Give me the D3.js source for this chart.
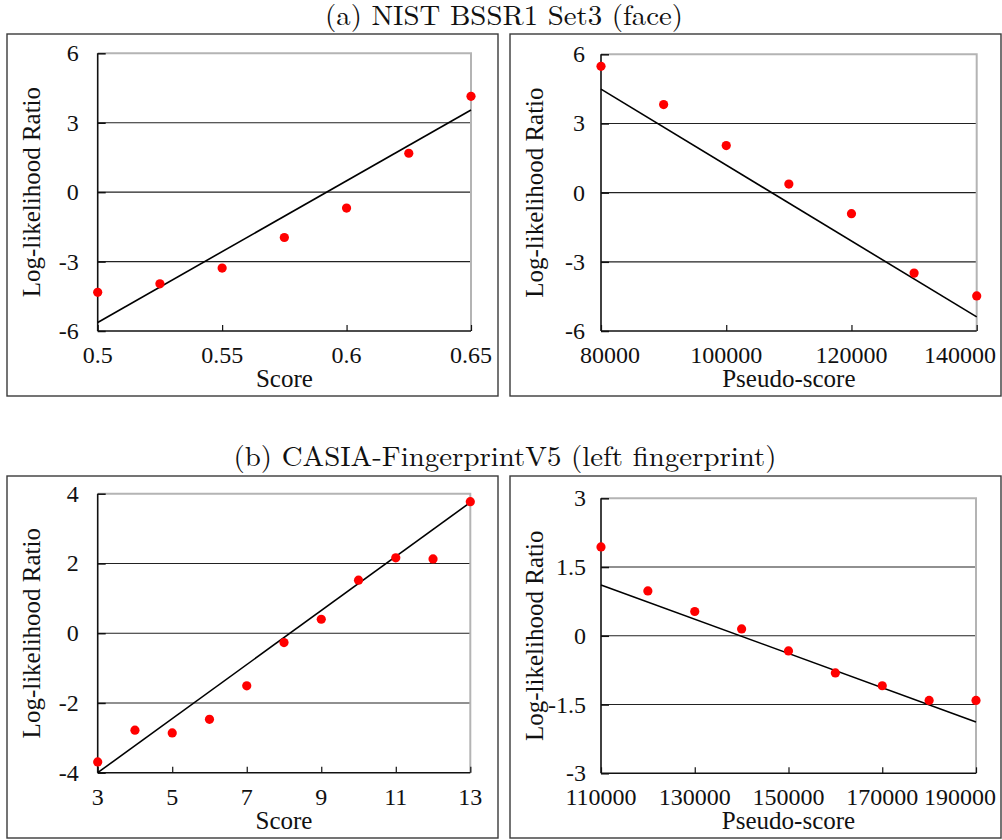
<!DOCTYPE html>
<html>
<head>
<meta charset="utf-8">
<script src="https://cdn.jsdelivr.net/npm/d3@7"></script>
<style>
    body { margin: 0; background: #fff; }
    svg { display: block; }
    .lab { font-family: 'Liberation Serif'; fill: #111; }
    .ttl { font-family: 'Latin Modern Roman'; fill: #111; }
</style>
</head>
<body>
<svg id="chart" width="1002" height="840"></svg>
<script>
    /*
    Data. Each panel has x values, log-likelihood
    ratios and the two end values of the fitted line
     */
    var faceScore = [0.5, 0.525, 0.55, 0.575, 0.6, 0.625, 0.65];
    var faceScoreLLR = [-4.33, -3.96, -3.28, -1.96, -0.69, 1.68, 4.14];
    var faceScoreFit = [-5.63, 3.55];
    var faceScoreXTicks = [0.5, 0.55, 0.6, 0.65];
    var faceYTicks = [-6, -3, 0, 3, 6];

    var facePseudo = [80000, 90000, 100000, 110000, 120000, 130000, 140000];
    var facePseudoLLR = [5.48, 3.82, 2.04, 0.37, -0.91, -3.49, -4.48];
    var facePseudoFit = [4.49, -5.39];
    var facePseudoXTicks = [80000, 100000, 120000, 140000];

    var fingerScore = [3, 4, 5, 6, 7, 8, 9, 10, 11, 12, 13];
    var fingerScoreLLR = [-3.69, -2.78, -2.86, -2.47, -1.51, -0.27, 0.40, 1.52, 2.16, 2.13, 3.77];
    var fingerScoreFit = [-4.0, 3.75];
    var fingerScoreXTicks = [3, 5, 7, 9, 11, 13];
    var fingerScoreYTicks = [-4, -2, 0, 2, 4];

    var fingerPseudo = [110000, 120000, 130000, 140000, 150000, 160000, 170000, 180000, 190000];
    var fingerPseudoLLR = [1.94, 0.98, 0.53, 0.15, -0.33, -0.81, -1.09, -1.41, -1.41];
    var fingerPseudoFit = [1.11, -1.88];
    var fingerPseudoXTicks = [110000, 130000, 150000, 170000, 190000];
    var fingerPseudoYTicks = [-3, -1.5, 0, 1.5, 3];

    var titles = ["(a) NIST BSSR1 Set3 (face)", "(b) CASIA-FingerprintV5 (left fingerprint)"];

    var svg = d3.select("#chart");
    var marks = svg.append("g").attr("class", "marks");
    var labels = svg.append("g").attr("class", "labels");

    /*
    Row titles, in Computer Modern like the LaTeX original
     */
    var titleRows = [
        {text: titles[0], x: 504, y: 25, w: 358},
        {text: titles[1], x: 505, y: 466, w: 543}
    ];
    labels.selectAll("text.ttl").data(titleRows).enter().append("text")
        .attr("class", "ttl")
        .attr("x", function(d){ return d.x; })
        .attr("y", function(d){ return d.y; })
        .attr("text-anchor", "middle")
        .attr("textLength", function(d){ return d.w; })
        .attr("lengthAdjust", "spacingAndGlyphs")
        .style("font-size", "28px")
        .text(function(d){ return d.text; });

    /*
    Panel layout: outer box, plot area and the data for each panel
     */
    var panels = [
        {box: [7, 34, 498, 396], plot: [97.7, 53.3, 471, 331],
         x: faceScore, y: faceScoreLLR, fit: faceScoreFit,
         xTicks: faceScoreXTicks, yTicks: faceYTicks, xLabel: "Score", yLabelGap: 19},
        {box: [510, 34, 1001, 396], plot: [601, 54.3, 976.7, 331],
         x: facePseudo, y: facePseudoLLR, fit: facePseudoFit,
         xTicks: facePseudoXTicks, yTicks: faceYTicks, xLabel: "Pseudo-score", yLabelGap: 16,
         firstShift: 9},
        {box: [7, 476, 498, 838], plot: [97.7, 493.7, 470.3, 772.7],
         x: fingerScore, y: fingerScoreLLR, fit: fingerScoreFit,
         xTicks: fingerScoreXTicks, yTicks: fingerScoreYTicks, xLabel: "Score", yLabelGap: 19},
        {box: [510, 476, 1001, 838], plot: [601, 498.3, 976, 773.3],
         x: fingerPseudo, y: fingerPseudoLLR, fit: fingerPseudoFit,
         xTicks: fingerPseudoXTicks, yTicks: fingerPseudoYTicks, xLabel: "Pseudo-score", yLabelGap: 15}
    ];

    panels.forEach(drawPanel);

    /*
    drawPanel()
        Draw one scatter plot with its fitted line, grid and axes.
        Lines and dots go in the marks layer, text in the labels layer
     */
    function drawPanel(p){
        var g = marks.append("g");
        var t = labels.append("g");
        var L = p.plot[0], T = p.plot[1], R = p.plot[2], B = p.plot[3];

        var x = d3.scaleLinear()
            .domain(d3.extent(p.xTicks))
            .range([L, R]);
        var y = d3.scaleLinear()
            .domain(d3.extent(p.yTicks))
            .range([B, T]);

        //outer frame
        g.append("rect")
            .attr("x", p.box[0]).attr("y", p.box[1])
            .attr("width", p.box[2] - p.box[0])
            .attr("height", p.box[3] - p.box[1])
            .attr("fill", "none")
            .attr("stroke", "#3a3a3a")
            .attr("stroke-width", 1.4);

        //horizontal grid lines on the inner ticks
        var inner = p.yTicks.slice(1, -1);
        g.selectAll("line.grid").data(inner).enter().append("line")
            .attr("x1", L).attr("x2", R)
            .attr("y1", function(d){ return y(d); })
            .attr("y2", function(d){ return y(d); })
            .attr("stroke", "#222")
            .attr("stroke-width", 1.1);

        //top and right of plot area in light gray
        g.append("path")
            .attr("d", "M" + L + "," + y.range()[1] + "H" + R + "V" + B)
            .attr("fill", "none")
            .attr("stroke", "#b4b4b4")
            .attr("stroke-width", 2);

        //left axis, ticks pointing inside
        var ya = g.append("g")
            .attr("transform", "translate(" + L + ",0)")
            .call(d3.axisRight(y).tickValues(p.yTicks).tickSize(8).tickFormat(""));
        ya.select(".domain").remove();
        ya.selectAll("line").attr("stroke", "#111").attr("stroke-width", 1.5);
        g.append("line")
            .attr("x1", L).attr("x2", L)
            .attr("y1", T).attr("y2", B)
            .attr("stroke", "#111")
            .attr("stroke-width", 1.6);

        //bottom axis, ticks pointing up
        var xa = g.append("g")
            .attr("transform", "translate(0," + B + ")")
            .call(d3.axisTop(x).tickValues(p.xTicks).tickSize(6).tickFormat(""));
        xa.select(".domain").remove();
        xa.selectAll("line").attr("stroke", "#111").attr("stroke-width", 1.2);
        g.append("line")
            .attr("x1", L).attr("x2", R)
            .attr("y1", B).attr("y2", B)
            .attr("stroke", "#111")
            .attr("stroke-width", 1.6);

        //fitted line
        var xs = d3.extent(p.xTicks);
        var fitPts = [[xs[0], p.fit[0]], [xs[1], p.fit[1]]];
        g.append("path")
            .datum(fitPts)
            .attr("d", d3.line()
                .x(function(d){ return x(d[0]); })
                .y(function(d){ return y(d[1]); }))
            .attr("fill", "none")
            .attr("stroke", "#000")
            .attr("stroke-width", 1.6);

        //data points
        g.selectAll("circle").data(p.x).enter().append("circle")
            .attr("cx", function(d){ return x(d); })
            .attr("cy", function(d, i){ return y(p.y[i]); })
            .attr("r", 4.6)
            .attr("fill", "#ff0000");

        //y tick labels
        t.selectAll("text.ylab").data(p.yTicks).enter().append("text")
            .attr("class", "lab")
            .attr("x", L - p.yLabelGap)
            .attr("y", function(d){ return y(d) + 8; })
            .attr("text-anchor", "end")
            .style("font-size", "24px")
            .text(function(d){ return String(d); });

        //x tick labels, the last one kept inside the outer frame
        var half = 3 * 12 / 2;
        t.selectAll("text.xlab").data(p.xTicks).enter().append("text")
            .attr("class", "lab")
            .attr("x", function(d, i){
                var cx = x(d);
                var hw = String(d).replace(".", "").length * 6 + (String(d).indexOf(".") >= 0 ? 3 : 0);
                if(i == 0 && p.firstShift) cx += p.firstShift;
                if(cx + hw > p.box[2] - 5) cx = p.box[2] - 5 - hw;
                return cx;
            })
            .attr("y", B + 32)
            .attr("text-anchor", "middle")
            .style("font-size", "24px")
            .text(function(d){ return String(d); });

        //axis titles
        t.append("text")
            .attr("class", "lab")
            .attr("x", (L + R) / 2)
            .attr("y", B + 56)
            .attr("text-anchor", "middle")
            .style("font-size", "25px")
            .text(p.xLabel);
        t.append("text")
            .attr("class", "lab")
            .attr("transform", "translate(" + (L - 58) + "," + ((T + B) / 2) + ") rotate(-90)")
            .attr("text-anchor", "middle")
            .style("font-size", "25px")
            .text("Log-likelihood Ratio");
    }
</script>
</body>
</html>
